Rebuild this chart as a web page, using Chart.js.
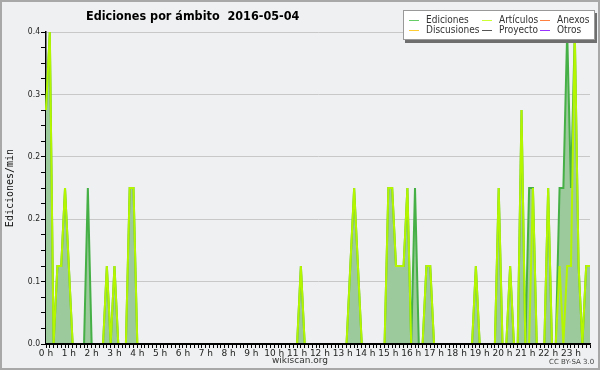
<!DOCTYPE html>
<html>
<head>
<meta charset="utf-8">
<script src="https://cdn.jsdelivr.net/npm/chart.js@4"></script>
<style>
  body { margin: 0; background: #fff; }
  #wrap { position: relative; width: 600px; height: 370px; box-sizing: border-box;
          border: 2px solid #a8a8a8; background: #eff0f1; overflow: hidden; }
  #wrap canvas { position: absolute; left: -2px; top: -2px; }
  .txt { position: absolute; white-space: pre; font-family: "DejaVu Sans", sans-serif; color: #222; }
  #title { left: 84px; top: 6px; font: bold 12.5px "DejaVu Sans Condensed", "DejaVu Sans", sans-serif; color: #000; }
  #legend { position: absolute; left: 401px; top: 8px; width: 190px; height: 28px; background: #fff;
            border: 1px solid #999; box-shadow: 2px 3px 0 #6e6e6e; }
  .item { position: absolute; font: 10px "DejaVu Sans Condensed", "DejaVu Sans", sans-serif; color: #333; line-height: 10px; }
  .item i { position: absolute; left: -17px; top: 5px; width: 10px; height: 0; border-top: 1.5px solid; }
  #site { left: 0; width: 596px; text-align: center; top: 353px; font-size: 9px; color: #333; }
  #cc { left: 547px; top: 356px; font-size: 7px; color: #444; }
</style>
</head>
<body>
<div id="wrap">
  <canvas id="chart" width="600" height="370"></canvas>
  <div class="txt" id="title">Ediciones por ámbito  2016-05-04</div>
  <div id="legend"></div>
  <div class="txt" id="site">wikiscan.org</div>
  <div class="txt" id="cc">CC BY-SA 3.0</div>
</div>
<script>
const hours = ['0 h','1 h','2 h','3 h','4 h','5 h','6 h','7 h','8 h','9 h','10 h','11 h',
               '12 h','13 h','14 h','15 h','16 h','17 h','18 h','19 h','20 h','21 h','22 h','23 h'];

// one value every 10 minutes
const ediciones = [
  0.3,0.4,0,0.1,0.1,0.2,0.1,0,0,0,0,0.2,
  0,0,0,0,0.1,0,0.1,0,0,0,0.2,0.2,
  0,0,0,0,0,0,0,0,0,0,0,0,
  0,0,0,0,0,0,0,0,0,0,0,0,
  0,0,0,0,0,0,0,0,0,0,0,0,
  0,0,0,0,0,0,0,0.1,0,0,0,0,
  0,0,0,0,0,0,0,0,0.1,0.2,0.1,0,
  0,0,0,0,0,0,0.2,0.2,0.1,0.1,0.1,0.2,
  0,0.2,0,0,0.1,0.1,0,0,0,0,0,0,
  0,0,0,0,0,0.1,0,0,0,0,0,0.2,
  0,0,0.1,0,0,0.3,0,0.2,0.2,0,0,0,
  0.2,0,0,0.2,0.2,0.4,0.2,0.4,0.1,0,0.1,0.1
];
const articulos = [
  0.3,0.4,0,0.1,0.1,0.2,0.1,0,0,0,0,0,
  0,0,0,0,0.1,0,0.1,0,0,0,0.2,0.2,
  0,0,0,0,0,0,0,0,0,0,0,0,
  0,0,0,0,0,0,0,0,0,0,0,0,
  0,0,0,0,0,0,0,0,0,0,0,0,
  0,0,0,0,0,0,0,0.1,0,0,0,0,
  0,0,0,0,0,0,0,0,0.1,0.2,0.1,0,
  0,0,0,0,0,0,0.2,0.2,0.1,0.1,0.1,0.2,
  0,0,0,0,0.1,0.1,0,0,0,0,0,0,
  0,0,0,0,0,0.1,0,0,0,0,0,0.2,
  0,0,0.1,0,0,0.3,0,0,0.2,0,0,0,
  0.2,0,0,0.1,0,0.1,0.1,0.4,0.1,0,0.1,0.1
];

const legendItems = [
  ['Ediciones', '#66cc66'], ['Artículos', '#ccff33'], ['Anexos', '#ff8040'],
  ['Discusiones', '#ffcc33'], ['Proyecto', '#555555'], ['Otros', '#9933ff']
];

// category labels: hour name every 6th slot
const categories = [];
hours.forEach(h => { categories.push(h); for (let k = 0; k < 5; k++) categories.push(''); });

const legendDiv = document.getElementById('legend');
const colX = [22, 95, 153], rowY = [4, 14];
legendItems.forEach((it, i) => {
  const d = document.createElement('div');
  d.className = 'item';
  d.style.left = colX[i % 3] + 'px';
  d.style.top = rowY[Math.floor(i / 3)] + 'px';
  d.innerHTML = `<i style="border-color:${it[1]}"></i>${it[0]}`;
  legendDiv.appendChild(d);
});

// redraw the x axis line over the datasets so the zero runs stay hidden
const axisOnTop = {
  id: 'axisOnTop',
  afterDatasetsDraw(chart) {
    const { ctx, chartArea: a } = chart;
    ctx.save();
    ctx.strokeStyle = '#000';
    ctx.lineWidth = 2;
    ctx.beginPath();
    ctx.moveTo(a.left - 1, a.bottom);
    ctx.lineTo(a.right, a.bottom);
    ctx.stroke();
    ctx.restore();
  }
};

const ctx = document.getElementById('chart').getContext('2d');
new Chart(ctx, {
  type: 'line',
  data: {
    labels: categories,
    datasets: [{
      label: 'Artículos',
      data: articulos,
      borderColor: '#b4f500',
      borderWidth: 2,
      pointRadius: 0,
      tension: 0,
      fill: false
    }, {
      label: 'Ediciones',
      data: ediciones,
      borderColor: '#45b045',
      backgroundColor: '#9dca9d',
      borderWidth: 2,
      pointRadius: 0,
      tension: 0,
      fill: 'origin'
    }]
  },
  options: {
    responsive: false,
    animation: false,
    devicePixelRatio: 1,
    layout: { padding: { left: 0, right: 10, top: 32, bottom: 0 } },
    plugins: {
      legend: { display: false },
      tooltip: { enabled: false }
    },
    scales: {
      x: {
        type: 'category',
        offset: false,
        afterFit: s => { s.height = 26; },
        border: { color: '#000', width: 1.5 },
        grid: { color: 'transparent', tickColor: '#000', tickLength: 4 },
        ticks: {
          autoSkip: false, maxRotation: 0, padding: 0,
          color: '#222', font: { family: 'DejaVu Sans', size: 9 }
        }
      },
      y: {
        min: 0, max: 0.4,
        afterFit: s => { s.width = 46; },
        border: { color: '#000', width: 1.5 },
        grid: {
          color: c => (c.index % 4 === 0 && c.index > 0) ? '#c8c8c8' : 'transparent',
          tickColor: '#000', tickLength: 5
        },
        ticks: {
          stepSize: 0.02, padding: 1, autoSkip: false,
          color: '#222', font: { family: 'DejaVu Sans Condensed', size: 8.5 },
          callback: (v, i) => i % 4 === 0 ? v.toFixed(1) : ''
        },
        title: {
          display: true, text: 'Ediciones/min', color: '#111',
          font: { family: 'DejaVu Sans Mono', size: 10 }, padding: { top: 4, bottom: 0 }
        }
      }
    }
  },
  plugins: [axisOnTop]
});
</script>
</body>
</html>
